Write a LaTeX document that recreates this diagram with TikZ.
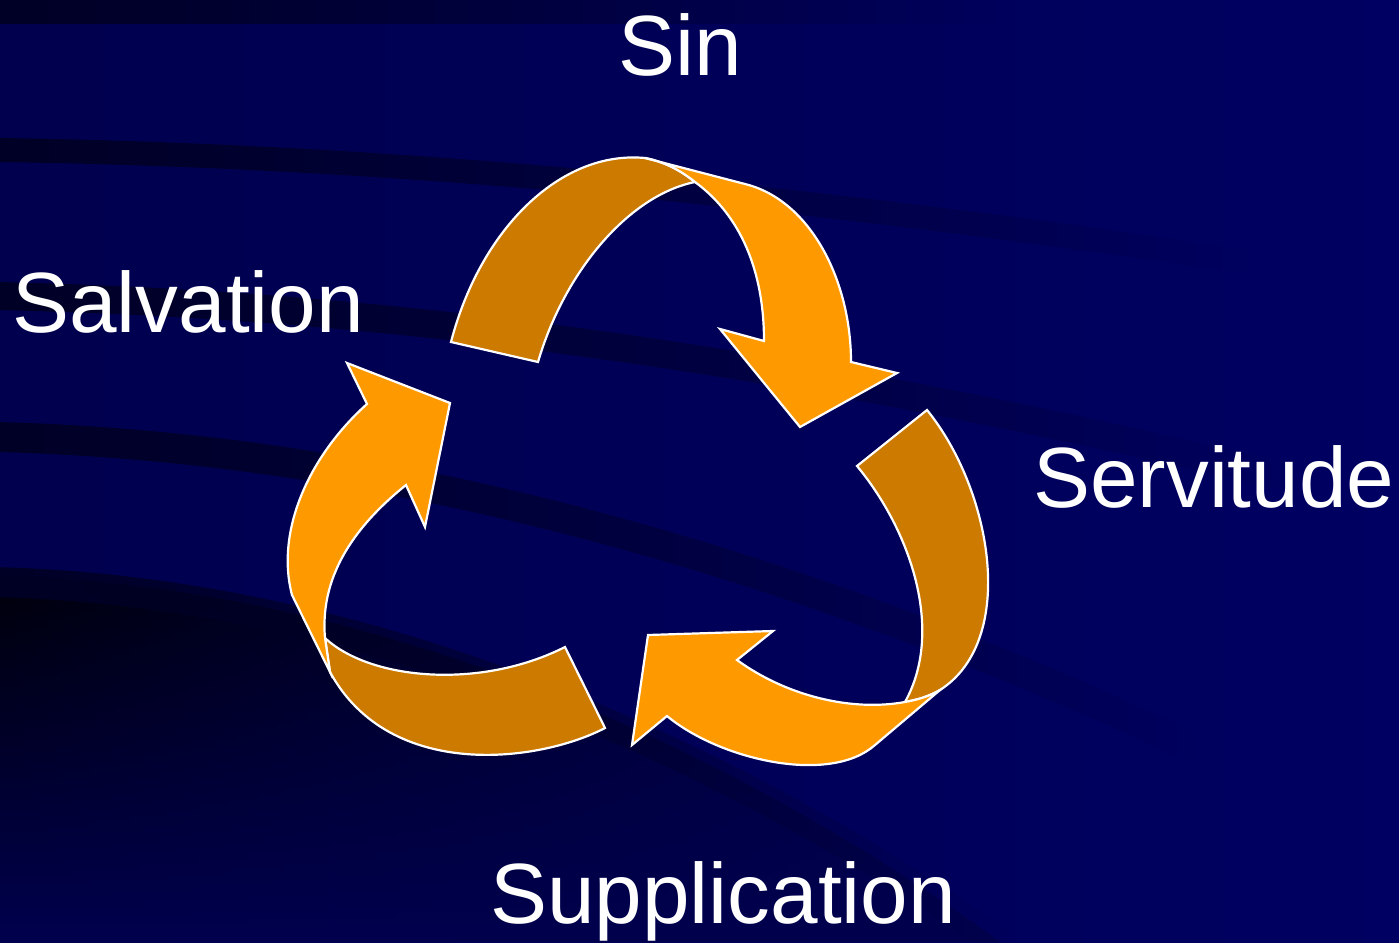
\documentclass[tikz,border=0pt]{standalone}
\usepackage{fontspec}
\setmainfont{Liberation Sans}
\usetikzlibrary{fadings}
\definecolor{bgL}{RGB}{0,0,78}
\definecolor{bgR}{RGB}{0,0,98}
\definecolor{stripe}{RGB}{0,0,38}
\definecolor{deep}{RGB}{0,0,10}
\definecolor{darkor}{RGB}{204,122,0}
\definecolor{lightor}{RGB}{255,153,0}
\begin{document}
\begin{tikzpicture}[x=1pt,y=-1pt,
  band/.style={draw=white,line width=2.2pt,line join=miter},
  back/.style={band,fill=darkor},
  front/.style={band,fill=lightor},
  lbl/.style={text=white,font=\fontsize{85.5}{100}\selectfont,inner sep=0pt,anchor=base west},
  swoosh/.style={draw=stripe,line width=#1,path fading=east},
  swoosh/.default=25pt]
\useasboundingbox (0,0) rectangle (1399,942);
% background
\shade[left color=bgL, right color=bgR] (0,0) rectangle (1399,942);
\begin{scope}
\clip (0,575) .. controls (300,585) and (650,690) .. (1000,942) -- (0,942) -- cycle;
\shade[top color=deep, middle color=deep, bottom color=bgL] (0,575) rectangle (1000,942);
\fill[bgL, path fading=west] (0,575) rectangle (1000,942);
\end{scope}
\fill[stripe, path fading=east] (0,0) rectangle (1000,24);
\draw[swoosh=24pt] (0,150) .. controls (400,156) and (800,195) .. (1250,262);
\draw[swoosh=28pt] (0,296) .. controls (400,305) and (800,360) .. (1300,480);
\draw[swoosh=30pt] (0,437) .. controls (300,445) and (700,515) .. (1200,750);
\draw[swoosh=30pt] (0,582) .. controls (300,590) and (650,700) .. (1000,942);

% arrow 1 (top)
\filldraw[back] (451,342) .. controls (480,230) and (560,150) .. (645,158)
  .. controls (665,162) and (680,170) .. (695,182)
  .. controls (630,195) and (565,270) .. (538,362) -- cycle;
\filldraw[front] (645,158) -- (745,184) .. controls (810,200) and (851,280) .. (851,362)
  -- (897,373) -- (800,427) -- (720,329) -- (764,341)
  .. controls (764,270) and (740,215) .. (695,182)
  .. controls (680,170) and (665,162) .. (645,158) -- cycle;

% arrow 2 (right)
\filldraw[back] (857,466) -- (927,410) .. controls (992,490) and (1018,640) .. (940,690)
  .. controls (928,697) and (916,700) .. (905,702)
  .. controls (945,630) and (910,530) .. (857,466) -- cycle;
\filldraw[front] (905,702) .. controls (850,712) and (785,695) .. (737,660)
  -- (773,631) -- (648,635) -- (632,745) -- (667,716)
  .. controls (720,760) and (830,785) .. (875,745) -- (940,690)
  .. controls (928,697) and (916,700) .. (905,702) -- cycle;

% arrow 3 (left)
\filldraw[back] (565,647) -- (605,728) .. controls (540,762) and (390,782) .. (330,672)
  -- (325,638) .. controls (370,680) and (480,690) .. (565,647) -- cycle;
\filldraw[front] (325,638) .. controls (320,580) and (350,530) .. (406,485)
  -- (425,527) -- (450,403) -- (347,363) -- (367,404)
  .. controls (310,455) and (275,530) .. (292,595) -- (330,672) -- cycle;

% labels
\node[lbl] (sin) at (618,75) {Sin};
\node[lbl] (salv) at (12,332) {Salvation};
\node[lbl] (serv) at (1033,507) {Servitude};
\node[lbl] (supp) at (490,923) {Supplication};
\end{tikzpicture}
\end{document}
